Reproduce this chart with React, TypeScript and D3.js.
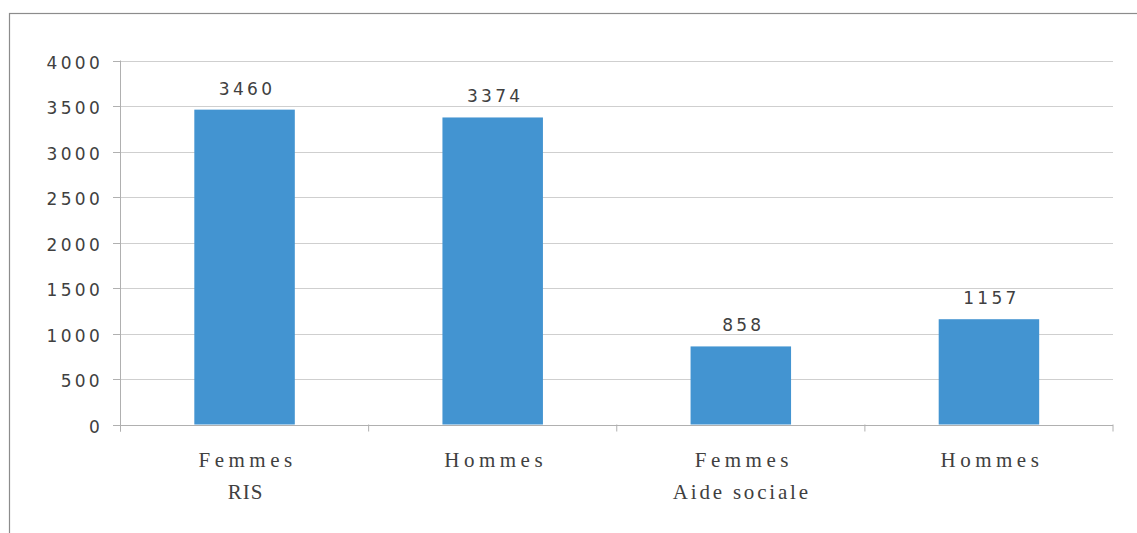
import React from "react";
import * as d3 from "d3";

const categories = ["Femmes", "Hommes", "Femmes", "Hommes"];
const groups = ["RIS", "", "Aide sociale", ""];
const values = [3460, 3374, 858, 1157];
const yTicks = [0, 500, 1000, 1500, 2000, 2500, 3000, 3500, 4000];

export default function App() {
  const W = 1137;
  const H = 533;
  const left = 120.5;
  const right = 1113;
  const top = 60.5;
  const bottom = 424.5;
  const x = d3.scaleBand<number>().domain(d3.range(categories.length)).range([left, right]).paddingInner(0).paddingOuter(0);
  const y = d3.scaleLinear().domain([0, 4000]).range([bottom, top]);
  const bw = x.bandwidth() * 0.405;
  const numFont = "'DejaVu Sans', sans-serif";
  const catFont = "'Liberation Serif', serif";
  const textColor = "#404040";
  return (
    <svg width={W} height={H} style={{ position: "absolute", left: 0, top: 0, background: "#fff" }}>
      <rect x={9.5} y={13.5} width={1140} height={540} fill="#fff" stroke="#8c8c8c" strokeWidth={1.2} />
      {yTicks.map((t) => (
        <g key={t}>
          <line x1={left} x2={right} y1={Math.round(y(t)) + 0.5} y2={Math.round(y(t)) + 0.5} stroke={t === 0 ? "#b0b0b0" : "#cfcfcf"} strokeWidth={1} />
          <line x1={113} x2={left} y1={Math.round(y(t)) + 0.5} y2={Math.round(y(t)) + 0.5} stroke="#b0b0b0" strokeWidth={1} />
          <text x={103} y={y(t) + 3} textAnchor="end" dominantBaseline="middle" fontFamily={numFont} fontSize={17} letterSpacing={3.3} fill={textColor}>
            {t}
          </text>
        </g>
      ))}
      <line x1={left} x2={left} y1={top} y2={bottom + 7} stroke="#b0b0b0" strokeWidth={1} />
      {d3.range(categories.length + 1).map((i) => {
        const xx = i < categories.length ? (x(i) as number) : right;
        return <line key={i} x1={xx} x2={xx} y1={bottom} y2={bottom + 7} stroke="#b0b0b0" strokeWidth={1} />;
      })}
      {values.map((v, i) => {
        const cx = (x(i) as number) + x.bandwidth() / 2;
        return (
          <g key={i}>
            <rect x={cx - bw / 2} y={y(v)} width={bw} height={bottom - y(v)} fill="#4394d1" />
            <text x={cx + 2.5} y={y(v) - 15} textAnchor="middle" fontFamily={numFont} fontSize={17} letterSpacing={3.3} fill={textColor}>
              {v}
            </text>
            <text x={cx + 3} y={467} textAnchor="middle" fontFamily={catFont} fontSize={21} letterSpacing={4.5} fill={textColor}>
              {categories[i]}
            </text>
            {groups[i] && (
              <text x={cx + 1} y={499} textAnchor="middle" fontFamily={catFont} fontSize={21} letterSpacing={i === 0 ? 1 : 2.8} fill={textColor}>
                {groups[i]}
              </text>
            )}
          </g>
        );
      })}
    </svg>
  );
}
